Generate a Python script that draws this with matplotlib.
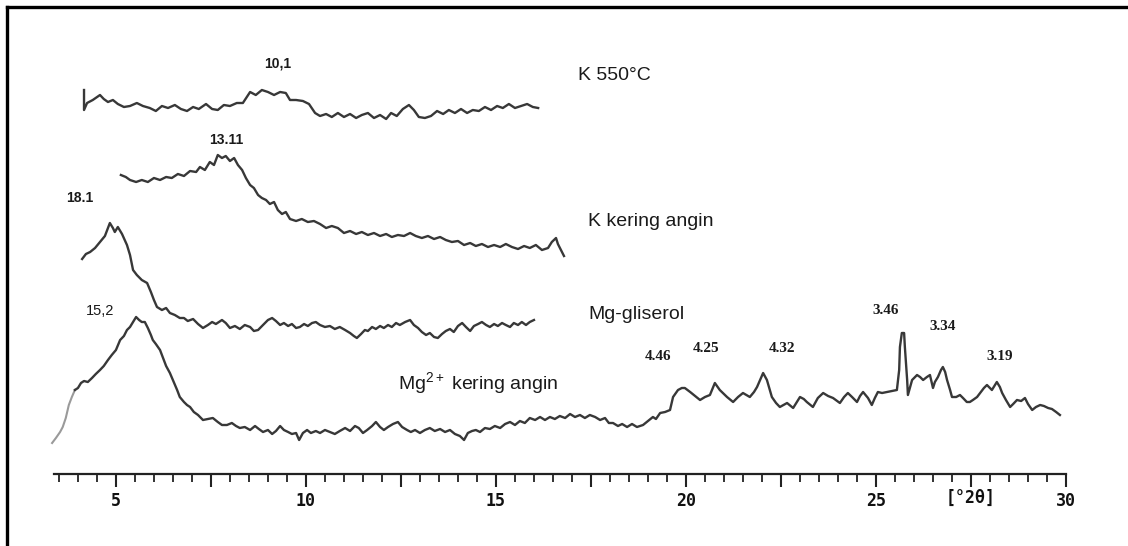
import matplotlib
matplotlib.use("Agg")
import matplotlib.pyplot as plt
from matplotlib.lines import Line2D
from matplotlib.ticker import MultipleLocator, FuncFormatter

plt.rcParams["mathtext.fontset"] = "custom"
plt.rcParams["mathtext.rm"] = "Liberation Sans"
plt.rcParams["mathtext.it"] = "Liberation Sans:italic"
plt.rcParams["mathtext.bf"] = "Liberation Sans:bold"

# ---------------- data (2theta [deg], intensity [arb.]) ----------------
k550 = [(4.16,384),(4.16,364),(4.24,371),(4.39,374),(4.58,379),(4.68,375),(4.79,372),(4.92,374),(5.05,370),(5.21,367),
        (5.37,368),(5.55,371),(5.71,368),(5.89,366),(6.05,363),(6.21,368),(6.37,366),(6.55,369),(6.71,365),(6.87,363),
        (7.03,367),(7.18,365),(7.37,370),(7.53,365),(7.68,364),(7.84,369),(8.00,368),(8.18,371),(8.34,371),(8.53,382),
        (8.68,379),(8.84,384),(9.00,382),(9.16,379),(9.32,382),(9.47,381),(9.58,374),(9.74,374),(9.92,373),(10.08,370),
        (10.24,361),(10.37,358),(10.53,360),(10.68,357),(10.84,361),(11.00,357),(11.16,360),(11.32,356),(11.47,359),(11.63,361),
        (11.79,356),(11.95,359),(12.11,355),(12.24,361),(12.39,358),(12.55,365),(12.71,369),(12.84,364),(12.97,357),(13.13,356),
        (13.29,358),(13.45,363),(13.61,360),(13.76,364),(13.92,361),(14.08,365),(14.24,361),(14.39,364),(14.55,363),(14.71,367),
        (14.87,364),(15.03,368),(15.18,366),(15.34,370),(15.50,366),(15.66,368),(15.82,370),(15.97,367),(16.11,366)]

k_air = [(5.13,299),(5.26,297),(5.37,294),(5.53,292),(5.68,294),(5.84,292),(6.00,296),(6.16,294),(6.32,297),(6.47,296),
         (6.63,300),(6.79,298),(6.95,303),(7.11,302),(7.21,307),(7.34,304),(7.47,312),(7.58,309),(7.68,319),(7.79,316),
         (7.89,318),(8.00,313),(8.11,316),(8.21,309),(8.32,304),(8.42,296),(8.53,289),(8.63,286),(8.74,279),(8.84,276),
         (8.95,274),(9.05,270),(9.16,272),(9.26,264),(9.37,260),(9.47,262),(9.58,255),(9.74,253),(9.89,255),(10.05,252),
         (10.21,253),(10.37,250),(10.53,246),(10.68,248),(10.84,246),(11.00,241),(11.16,243),(11.32,240),(11.47,242),(11.63,239),
         (11.79,241),(11.95,238),(12.11,240),(12.26,237),(12.42,239),(12.58,238),(12.74,241),(12.89,238),(13.05,236),(13.21,238),
         (13.37,235),(13.53,237),(13.68,234),(13.84,232),(14.00,233),(14.16,229),(14.32,231),(14.47,228),(14.63,230),(14.79,227),
         (14.95,229),(15.11,227),(15.26,230),(15.42,227),(15.58,225),(15.74,228),(15.89,226),(16.05,229),(16.21,224),(16.37,226),
         (16.47,232),(16.58,236),(16.63,230),(16.71,224),(16.79,218)]

mg_gly = [(4.11,215),(4.21,220),(4.32,222),(4.45,226),(4.58,232),(4.71,238),(4.84,251),(4.92,246),(4.97,242),(5.05,247),
          (5.16,240),(5.29,229),(5.37,219),(5.45,204),(5.55,199),(5.68,194),(5.82,191),(5.92,182),(6.00,174),(6.08,167),
          (6.21,164),(6.32,166),(6.42,161),(6.55,159),(6.68,156),(6.79,156),(6.89,153),(7.03,155),(7.16,150),(7.29,146),
          (7.42,149),(7.53,152),(7.63,150),(7.79,154),(7.89,151),(8.00,146),(8.13,148),(8.26,145),(8.39,149),(8.53,147),
          (8.63,143),(8.74,144),(8.87,149),(9.00,154),(9.11,156),(9.21,153),(9.32,149),(9.42,151),(9.53,148),(9.63,150),
          (9.74,146),(9.84,147),(9.95,150),(10.05,148),(10.16,151),(10.26,152),(10.37,149),(10.50,147),(10.63,148),(10.76,145),
          (10.89,147),(11.03,144),(11.16,141),(11.26,138),(11.34,136),(11.45,140),(11.55,144),(11.63,143),(11.74,147),(11.84,145),
          (11.95,148),(12.05,146),(12.16,149),(12.26,147),(12.37,151),(12.47,149),(12.61,152),(12.74,154),(12.84,149),(12.95,146),
          (13.05,142),(13.16,139),(13.26,141),(13.37,137),(13.47,136),(13.58,140),(13.68,143),(13.79,145),(13.89,142),(14.00,148),
          (14.11,151),(14.21,147),(14.32,143),(14.42,148),(14.53,150),(14.63,152),(14.74,149),(14.84,147),(14.95,150),(15.05,148),
          (15.16,151),(15.26,149),(15.37,147),(15.47,151),(15.58,149),(15.68,152),(15.79,149),(15.89,152),(16.00,154)]

mg_air = [(3.32,31),(3.42,36),(3.53,42),(3.60,47),(3.68,56),(3.76,69),(3.84,77),
          (3.92,84),(4.00,86),(4.08,91),(4.16,93),(4.26,92),(4.37,96),(4.47,100),(4.58,104),(4.68,108),(4.79,114),
          (4.89,119),(5.00,124),(5.11,134),(5.21,138),(5.29,144),(5.37,147),(5.45,152),(5.53,157),(5.61,154),(5.68,152),
          (5.76,152),(5.84,146),(5.92,139),(5.97,134),(6.05,130),(6.16,124),(6.24,116),(6.32,108),(6.42,101),(6.53,91),
          (6.61,84),(6.68,77),(6.79,72),(6.87,69),(6.95,67),(7.05,62),(7.16,59),(7.29,54),(7.42,55),(7.55,56),
          (7.68,52),(7.79,49),(7.92,49),(8.05,51),(8.16,48),(8.26,46),(8.39,47),(8.53,44),(8.66,48),(8.76,45),
          (8.87,42),(9.00,44),(9.11,40),(9.21,43),(9.32,48),(9.42,44),(9.53,42),(9.63,40),(9.74,41),(9.82,34),
          (9.92,41),(10.03,44),(10.13,41),(10.26,43),(10.37,41),(10.50,44),(10.63,42),(10.76,40),(10.89,43),(11.03,46),
          (11.16,43),(11.29,48),(11.39,46),(11.50,41),(11.61,44),(11.74,48),(11.84,52),(11.95,47),(12.05,44),(12.16,47),
          (12.29,50),(12.42,52),(12.53,47),(12.66,44),(12.76,42),(12.87,44),(13.00,41),(13.13,44),(13.26,46),(13.39,43),
          (13.53,45),(13.66,42),(13.79,44),(13.92,40),(14.05,38),(14.16,34),(14.26,41),(14.37,43),(14.47,44),(14.58,42),
          (14.71,46),(14.84,45),(14.97,48),(15.11,46),(15.24,50),(15.37,52),(15.50,49),(15.63,53),(15.76,51),(15.89,56),
          (16.03,54),(16.16,57),(16.29,54),(16.42,57),(16.55,55),(16.68,58),(16.82,56),(16.95,60),(17.08,57),(17.21,59),
          (17.34,56),(17.47,59),(17.61,57),(17.74,54),(17.87,56),(17.97,51),(18.08,51),(18.21,48),(18.32,50),(18.45,47),
          (18.58,50),(18.71,47),(18.87,49),(19.00,53),(19.13,57),(19.21,55),(19.32,61),(19.45,62),(19.58,64),(19.66,77),
          (19.79,84),(19.89,86),(19.97,86),(20.11,82),(20.24,78),(20.37,74),(20.50,77),(20.63,79),(20.76,91),(20.89,84),
          (21.00,80),(21.08,77),(21.24,72),(21.37,77),(21.50,81),(21.68,77),(21.79,82),(21.87,87),(21.95,94),(22.03,101),
          (22.13,94),(22.26,77),(22.37,71),(22.47,67),(22.66,71),(22.82,66),(23.00,77),(23.10,75),(23.18,72),(23.34,67),
          (23.47,76),(23.61,81),(23.74,78),(23.87,76),(24.05,71),(24.16,77),(24.26,81),(24.37,77),(24.50,72),(24.58,78),
          (24.66,82),(24.79,76),(24.89,69),(24.97,76),(25.05,82),(25.16,81),(25.29,82),(25.42,83),(25.55,84),(25.61,104),
          (25.63,127),(25.68,141),(25.74,141),(25.76,127),(25.82,94),(25.84,79),(25.89,86),(25.95,94),(26.08,99),(26.16,97),
          (26.24,94),(26.34,97),(26.42,99),(26.50,86),(26.55,92),(26.63,97),(26.71,104),(26.76,107),(26.82,102),(26.87,94),
          (26.95,84),(27.00,77),(27.11,77),(27.21,79),(27.29,76),(27.39,72),(27.47,72),(27.55,74),(27.66,77),(27.74,81),
          (27.84,86),(27.92,89),(28.00,86),(28.05,84),(28.13,89),(28.18,92),(28.26,87),(28.32,81),(28.42,74),(28.53,67),
          (28.61,70),(28.71,74),(28.82,73),(28.92,76),(29.00,70),(29.11,64),(29.21,67),(29.32,69),(29.42,68),(29.53,66),
          (29.63,65),(29.74,62),(29.84,59)]

series_labels = ["K 550°C", "K kering angin", "Mg-gliserol", r"Mg$^{2+}$ kering angin"]
label_pos = [(17.16, 399), (17.42, 253), (17.42, 160), (12.42, 91)]

peak_labels = ["10,1", "13.11", "18.1", "15,2", "4.46", "4.25", "4.32", "3.46", "3.34", "3.19"]
peak_pos = [(9.26, 411), (7.89, 334), (4.05, 276), (4.58, 163), (19.26, 117), (20.53, 126),
            (22.53, 126), (25.26, 164), (26.76, 148), (28.26, 117)]
peak_style = ["sansb", "sansb", "sansb", "sans", "serifb", "serifb", "serifb", "serifb", "serifb", "serifb"]

x_min, x_max = 3.37, 30.0
y_max = 474
axis_unit_label = "[°2θ]"

# ---------------- figure ----------------
W, H = 1128, 546
fig = plt.figure(figsize=(W / 100, H / 100), dpi=100)
fig.patch.set_facecolor("white")

def fx(px):
    return px / W

def fy(py):
    return 1 - py / H

ax = fig.add_axes([fx(54), fy(474), fx(1066) - fx(54), fy(0) - fy(474)])
ax.set_xlim(x_min, x_max)
ax.set_ylim(0, y_max)
ax.patch.set_alpha(0)
for s in ("left", "right", "top"):
    ax.spines[s].set_visible(False)
ax.spines["bottom"].set_linewidth(1.6)
ax.spines["bottom"].set_color("#222222")
ax.set_yticks([])
ax.xaxis.set_major_locator(MultipleLocator(2.5))
ax.xaxis.set_minor_locator(MultipleLocator(0.5))
ax.xaxis.set_major_formatter(FuncFormatter(lambda v, p: f"{int(round(v))}" if abs(v / 5 - round(v / 5)) < 1e-6 else ""))
ax.tick_params(axis="x", which="major", direction="out", length=9, width=1.5, color="#222222",
               pad=4, labelsize=12, labelcolor="#111111")
ax.tick_params(axis="x", which="minor", direction="out", length=6, width=1.3, color="#222222")
for lab in ax.get_xticklabels():
    lab.set_fontfamily("DejaVu Sans Mono")
    lab.set_fontweight("bold")

line_kw = dict(color="#383838", lw=1.7, solid_joinstyle="round", clip_on=False)
for data in (k550, k_air, mg_gly):
    xs, ys = zip(*data)
    ax.plot(xs, ys, **line_kw)
xs, ys = zip(*mg_air)
ax.plot(xs[:8], ys[:8], color="#9a9a9a", lw=1.5, clip_on=False)
ax.plot(xs[7:], ys[7:], **line_kw)

for txt, (x, y) in zip(series_labels, label_pos):
    ax.text(x, y, txt, ha="left", va="center", fontsize=14,
            family="Liberation Sans", color="#1a1a1a")

fam = {"sansb": ("Liberation Sans", "bold", 10), "sans": ("Liberation Sans", "normal", 10.5),
       "serifb": ("Liberation Serif", "bold", 11)}
for txt, (x, y), st in zip(peak_labels, peak_pos, peak_style):
    f, w, s = fam[st]
    ax.text(x, y, txt, ha="center", va="center", fontsize=s, family=f, fontweight=w, color="#1a1a1a")

ax.annotate(axis_unit_label, xy=(27.5, 0), xycoords=("data", "axes fraction"),
            xytext=(0, -9 * 0.72 - 4), textcoords="offset points", ha="center", va="top",
            fontsize=12, family="DejaVu Sans Mono", fontweight="bold", color="#111111")

# scanned frame (top and left borders)
fig.add_artist(Line2D([fx(7), fx(W)], [fy(7), fy(7)], color="black", lw=2.4))
fig.add_artist(Line2D([fx(7), fx(7)], [fy(7), fy(H)], color="black", lw=2.4))

fig.savefig("out.png", dpi=100, facecolor="white")
